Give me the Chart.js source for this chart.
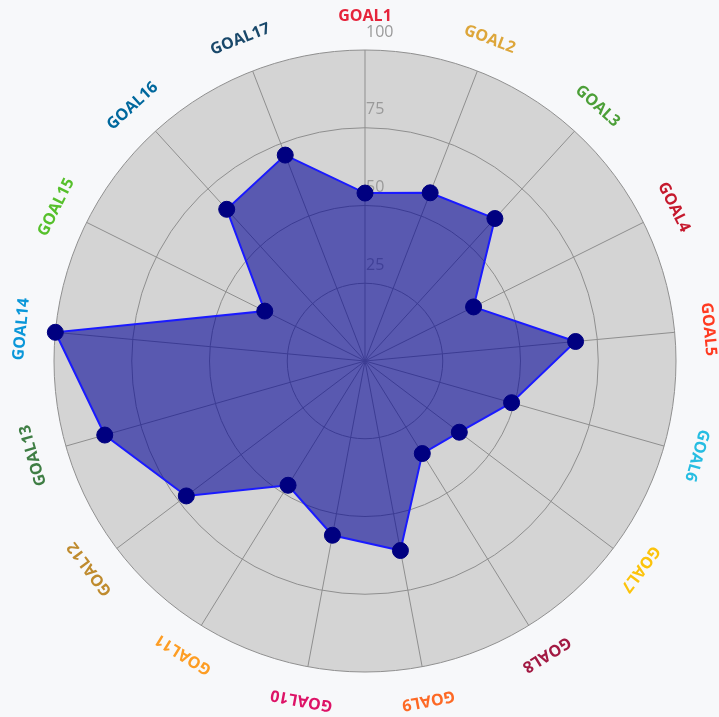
<!DOCTYPE html>
<html>
<head>
<meta charset="utf-8">
<script src="https://cdn.jsdelivr.net/npm/chart.js@4.4.0/dist/chart.umd.min.js"></script>
<style>
  html, body { margin: 0; padding: 0; background: #f7f8fa; }
  #wrap { width: 719px; height: 717px; position: relative; }
</style>
</head>
<body>
<div id="wrap"><canvas id="c" width="719" height="717"></canvas></div>
<script>
const categories = ['GOAL1','GOAL2','GOAL3','GOAL4','GOAL5','GOAL6','GOAL7','GOAL8','GOAL9','GOAL10','GOAL11','GOAL12','GOAL13','GOAL14','GOAL15','GOAL16','GOAL17'];
const scores = [54, 58, 62, 39, 68, 49, 38, 35, 62, 57, 47, 72, 87, 100, 36, 66, 71];
const labelColors = ['#E5243B','#DDA63A','#4C9F38','#C5192D','#FF3A21','#26BDE2','#FCC30B','#A21942','#FD6925','#DD1367','#FD9D24','#BF8B2E','#3F7E44','#0A97D9','#56C02B','#00689D','#19486A'];
const tickValues = [25, 50, 75, 100];

const rotatedLabels = {
  id: 'rotatedLabels',
  beforeDatasetsDraw(chart) {
    const s = chart.scales.r;
    const ctx = chart.ctx;
    ctx.save();
    ctx.font = '16px "Open Sans", sans-serif';
    ctx.fillStyle = '#999999';
    ctx.textAlign = 'left';
    ctx.textBaseline = 'middle';
    tickValues.forEach(v => {
      const d = s.getDistanceFromCenterForValue(v);
      ctx.fillText(String(v), s.xCenter + 1, s.yCenter - d - 18);
    });
    ctx.restore();
  },
  afterDraw(chart) {
    const s = chart.scales.r;
    const ctx = chart.ctx;
    ctx.save();
    ctx.font = 'bold 16px "Open Sans", sans-serif';
    ctx.textAlign = 'center';
    ctx.textBaseline = 'middle';
    categories.forEach((lab, i) => {
      const p = s.getPointPosition(i, s.drawingArea + 34);
      ctx.save();
      ctx.translate(p.x, p.y);
      ctx.rotate(s.getIndexAngle(i));
      ctx.fillStyle = labelColors[i];
      ctx.fillText(lab, 0, 0);
      ctx.restore();
    });
    ctx.restore();
  }
};

new Chart(document.getElementById('c'), {
  type: 'radar',
  data: {
    labels: categories,
    datasets: [{
      data: scores,
      backgroundColor: 'rgba(0,0,150,0.58)',
      borderColor: '#1a1aff',
      borderWidth: 2,
      pointRadius: 8,
      pointHoverRadius: 8,
      pointBackgroundColor: '#000080',
      pointBorderColor: '#000080',
      pointBorderWidth: 1,
      fill: true
    }]
  },
  options: {
    responsive: false,
    animation: false,
    layout: { padding: { left: 54, right: 43, top: 50, bottom: 45 } },
    plugins: { legend: { display: false }, tooltip: { enabled: false } },
    scales: {
      r: {
        min: 0,
        max: 100,
        backgroundColor: '#d4d4d4',
        ticks: { display: false, stepSize: 25 },
        pointLabels: { display: false },
        grid: { circular: true, color: '#8f8f8f', lineWidth: 1 },
        angleLines: { color: '#8f8f8f', lineWidth: 1 }
      }
    }
  },
  plugins: [rotatedLabels]
});
</script>
</body>
</html>
